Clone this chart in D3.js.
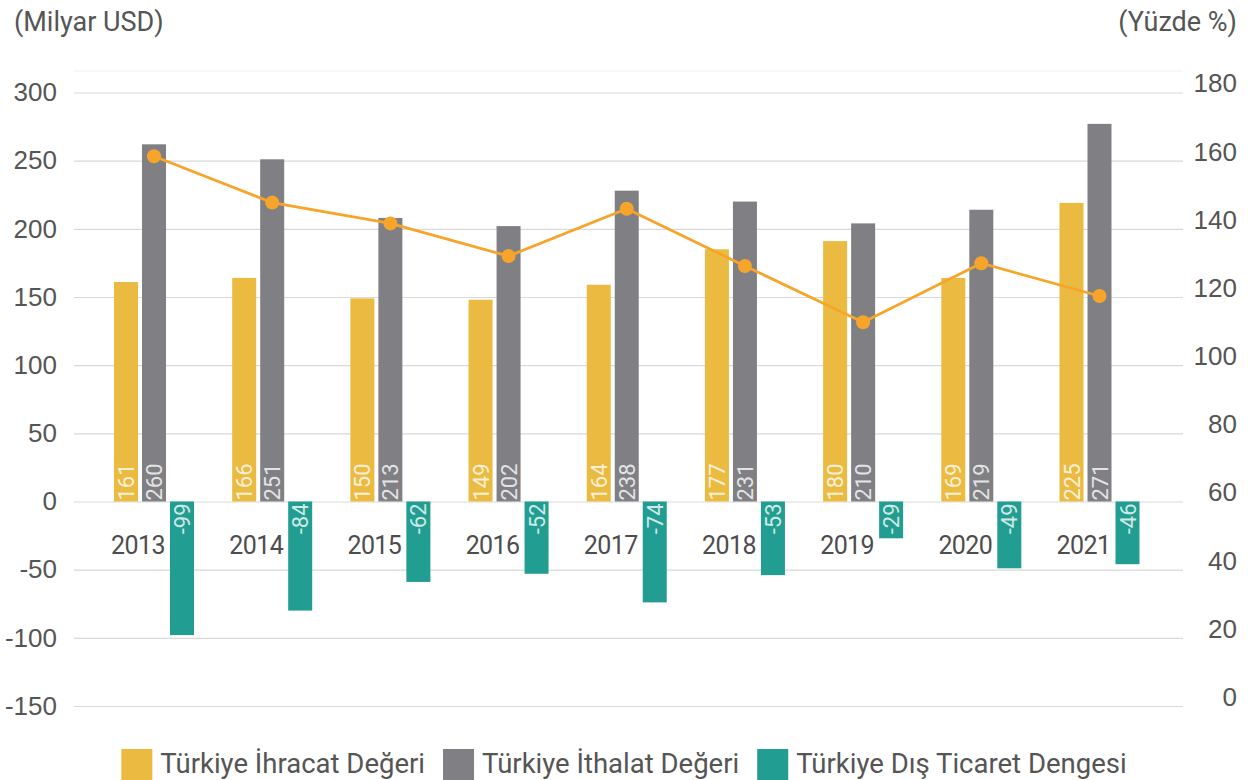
<!DOCTYPE html>
<html>
<head>
<meta charset="utf-8">
<script src="https://cdn.jsdelivr.net/npm/d3@7"></script>
<style>
  body { margin: 0; background: #fff; }
  svg { display: block; font-family: Roboto, "DejaVu Sans", sans-serif; }
</style>
</head>
<body>
<svg id="chart" width="1248" height="780"></svg>
<script>
const years = ["2013", "2014", "2015", "2016", "2017", "2018", "2019", "2020", "2021"];

// bar heights as drawn, and the numbers printed in them
const exportValues = [161, 164, 149, 148, 159, 185, 191, 164, 219];
const importValues = [262, 251, 208, 202, 228, 220, 204, 214, 277];
const balanceValues = [-98, -80, -59, -53, -74, -54, -27, -49, -46];
const exportLabels = [161, 166, 150, 149, 164, 177, 180, 169, 225];
const importLabels = [260, 251, 213, 202, 238, 231, 210, 219, 271];
const balanceLabels = [-99, -84, -62, -52, -74, -53, -29, -49, -46];

// right axis line (Yüzde %)
const ratioValues = [161.3, 147.7, 141.6, 132.0, 145.9, 129.1, 112.6, 129.9, 120.3];

const leftTicks = [-150, -100, -50, 0, 50, 100, 150, 200, 250, 300];
const rightTicks = [0, 20, 40, 60, 80, 100, 120, 140, 160, 180];

const seriesNames = ["Türkiye İhracat Değeri", "Türkiye İthalat Değeri", "Türkiye Dış Ticaret Dengesi"];
const colors = ["#ebbb41", "#808084", "#229d91"];
const lineColor = "#f7a52a";

const plotLeft = 74, plotRight = 1183, plotTop = 92.5, plotBottom = 706;
const barWidth = 24, barGap = 4;

const svg = d3.select("#chart");

const yLeft = d3.scaleLinear().domain([-150, 300]).range([plotBottom, plotTop]);
const yRight = d3.scaleLinear().domain([0, 180]).range([plotBottom, plotTop]);
const x = d3.scalePoint().domain(years).range([154, 1099.5]);

// faint top border
svg.append("line")
  .attr("x1", plotLeft).attr("x2", plotRight)
  .attr("y1", 71).attr("y2", 71)
  .attr("stroke", "#f0f0f0");

const gLeft = svg.append("g")
  .attr("transform", "translate(" + plotLeft + ",0)")
  .call(d3.axisLeft(yLeft).tickValues(leftTicks).tickFormat(d => String(d))
    .tickSize(-(plotRight - plotLeft)).tickPadding(17));
gLeft.select(".domain").remove();
gLeft.selectAll(".tick line").attr("stroke", "#d9d9d9").attr("stroke-width", 1.2);
gLeft.selectAll(".tick text").attr("fill", "#555").style("font-size", "26px").attr("font-family", null);

const gRight = svg.append("g")
  .attr("transform", "translate(" + plotRight + ",0)")
  .call(d3.axisRight(yRight).tickValues(rightTicks).tickSize(0).tickPadding(0));
gRight.select(".domain").remove();
gRight.selectAll(".tick text")
  .attr("x", 54)
  .attr("dy", "-0.02em")
  .attr("text-anchor", "end")
  .attr("fill", "#555")
  .style("font-size", "26px")
  .attr("font-family", null);

svg.append("text")
  .attr("x", 14).attr("y", 31)
  .attr("fill", "#555")
  .style("font-size", "27px")
  .text("(Milyar USD)");

svg.append("text")
  .attr("x", 1237).attr("y", 31)
  .attr("text-anchor", "end")
  .attr("fill", "#555")
  .style("font-size", "27px")
  .text("(Yüzde %)");

const seriesValues = [exportValues, importValues, balanceValues];
const seriesLabels = [exportLabels, importLabels, balanceLabels];

function barX(year, s)
{
  return x(year) - (3 * barWidth + 2 * barGap) / 2 + s * (barWidth + barGap);
}

for (let s = 0; s < 3; s++)
{
  svg.append("g")
    .selectAll("rect")
    .data(years)
    .join("rect")
    .attr("x", d => barX(d, s))
    .attr("width", barWidth)
    .attr("y", (d, i) => Math.min(yLeft(seriesValues[s][i]), yLeft(0)))
    .attr("height", (d, i) => Math.abs(yLeft(seriesValues[s][i]) - yLeft(0)))
    .attr("fill", colors[s]);
}

for (let s = 0; s < 3; s++)
{
  svg.append("g")
    .selectAll("text")
    .data(years)
    .join("text")
    .attr("transform", (d, i) =>
    {
      const tx = barX(d, s) + barWidth - 4;
      const ty = seriesValues[s][i] >= 0 ? yLeft(0) - 1 : yLeft(0) + 2;
      return "translate(" + tx + "," + ty + ") rotate(-90)";
    })
    .attr("text-anchor", (d, i) => seriesValues[s][i] >= 0 ? "start" : "end")
    .attr("fill", "#fff")
    .attr("fill-opacity", 0.8)
    .style("font-size", "22px")
    .text((d, i) => seriesLabels[s][i]);
}

svg.append("g")
  .selectAll("text")
  .data(years)
  .join("text")
  .attr("x", d => x(d) - 16)
  .attr("y", 554)
  .attr("text-anchor", "middle")
  .attr("fill", "#4d4d4d")
  .attr("letter-spacing", -0.6)
  .style("font-size", "25px")
  .text(d => d);

const line = d3.line()
  .x((d, i) => x(years[i]))
  .y(d => yRight(d));

svg.append("path")
  .datum(ratioValues)
  .attr("d", line)
  .attr("fill", "none")
  .attr("stroke", lineColor)
  .attr("stroke-width", 2.8);

svg.append("g")
  .selectAll("circle")
  .data(ratioValues)
  .join("circle")
  .attr("cx", (d, i) => x(years[i]))
  .attr("cy", d => yRight(d))
  .attr("r", 7)
  .attr("fill", lineColor);

// legend, centred under the plot
const legend = svg.append("g");
let lx = 0;
seriesNames.forEach((name, i) =>
{
  legend.append("rect")
    .attr("x", lx).attr("y", 749)
    .attr("width", 31).attr("height", 31)
    .attr("fill", colors[i]);
  const t = legend.append("text")
    .attr("x", lx + 39).attr("y", 773)
    .attr("fill", "#555")
    .style("font-size", "27.5px")
    .text(name);
  lx += 39 + t.node().getComputedTextLength() + 18;
});
lx -= 18;
legend.attr("transform", "translate(" + (624 - lx / 2) + ",0)");
</script>
</body>
</html>
